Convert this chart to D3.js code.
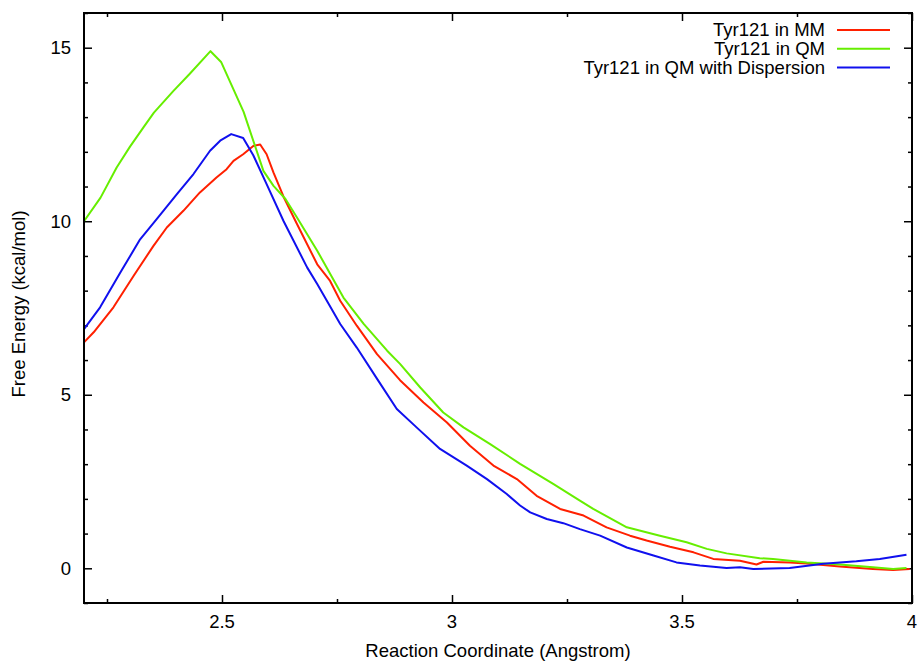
<!DOCTYPE html>
<html>
<head>
<meta charset="utf-8">
<script src="https://cdn.jsdelivr.net/npm/d3@7"></script>
<style>
  body { margin: 0; background: #fff; }
  text { font-family: "Liberation Sans", Arial, sans-serif; fill: #000; }
</style>
</head>
<body>
<svg id="chart" width="923" height="662"></svg>
<script>
// series data (reaction coordinate, free energy)
const mmX = [2.200, 2.221, 2.264, 2.308, 2.351, 2.380, 2.416, 2.452, 2.488, 2.510, 2.525, 2.546, 2.568, 2.583, 2.597, 2.612, 2.634, 2.663, 2.707, 2.735, 2.757, 2.793, 2.837, 2.887, 2.938, 2.989, 3.039, 3.090, 3.141, 3.184, 3.235, 3.286, 3.336, 3.387, 3.423, 3.474, 3.525, 3.568, 3.626, 3.662, 3.677, 3.734, 3.771, 3.843, 3.915, 3.959, 3.995];
const mmY = [6.51, 6.80, 7.52, 8.43, 9.29, 9.82, 10.30, 10.83, 11.26, 11.50, 11.74, 11.93, 12.17, 12.21, 11.93, 11.40, 10.70, 9.92, 8.76, 8.28, 7.71, 6.99, 6.17, 5.42, 4.78, 4.20, 3.53, 2.96, 2.57, 2.09, 1.71, 1.52, 1.18, 0.94, 0.80, 0.62, 0.46, 0.27, 0.22, 0.11, 0.19, 0.17, 0.14, 0.05, -0.02, -0.05, -0.02];

const qmX = [2.200, 2.236, 2.271, 2.300, 2.330, 2.352, 2.394, 2.430, 2.475, 2.498, 2.547, 2.590, 2.612, 2.638, 2.663, 2.707, 2.764, 2.808, 2.859, 2.887, 2.931, 2.981, 3.025, 3.083, 3.148, 3.220, 3.278, 3.307, 3.380, 3.452, 3.510, 3.554, 3.597, 3.669, 3.698, 3.771, 3.843, 3.915, 3.959, 3.988];
const qmY = [10.00, 10.68, 11.55, 12.15, 12.72, 13.13, 13.75, 14.25, 14.90, 14.59, 13.15, 11.45, 11.02, 10.64, 10.11, 9.15, 7.80, 7.04, 6.27, 5.89, 5.21, 4.49, 4.06, 3.58, 3.01, 2.43, 1.95, 1.71, 1.18, 0.94, 0.75, 0.56, 0.43, 0.29, 0.27, 0.17, 0.11, 0.03, -0.02, 0.01];

const dispX = [2.200, 2.235, 2.279, 2.322, 2.358, 2.402, 2.438, 2.474, 2.496, 2.520, 2.546, 2.568, 2.597, 2.634, 2.685, 2.707, 2.757, 2.793, 2.840, 2.880, 2.923, 2.974, 3.032, 3.076, 3.119, 3.148, 3.170, 3.206, 3.242, 3.278, 3.322, 3.380, 3.438, 3.488, 3.539, 3.597, 3.626, 3.655, 3.734, 3.807, 3.879, 3.930, 3.988];
const dispY = [6.89, 7.52, 8.52, 9.48, 10.06, 10.78, 11.36, 12.03, 12.32, 12.51, 12.40, 11.90, 11.07, 10.00, 8.67, 8.19, 7.04, 6.36, 5.40, 4.59, 4.06, 3.44, 2.96, 2.57, 2.14, 1.81, 1.61, 1.42, 1.30, 1.13, 0.94, 0.60, 0.37, 0.17, 0.08, 0.01, 0.03, -0.02, 0.01, 0.13, 0.20, 0.27, 0.39];

const seriesNames = ["Tyr121 in MM", "Tyr121 in QM", "Tyr121 in QM with Dispersion"];
const seriesColors = ["#ff2000", "#66ee00", "#1010ee"];
const xTicks = [2.5, 3, 3.5, 4];
const yTicks = [0, 5, 10, 15];

const svg = d3.select("#chart");
const margin = {top: 13, right: 11, bottom: 59, left: 84};
const width = 923 - margin.left - margin.right;
const height = 662 - margin.top - margin.bottom;
const fontSize = 18.5;

const x = d3.scaleLinear().domain([2.2, 4]).range([0, width]);
const y = d3.scaleLinear().domain([-1, 16]).range([height, 0]);

const g = svg.append("g").attr("transform", `translate(${margin.left},${margin.top})`);

// minor ticks (all four sides)
const xMinor = [2.25, 2.75, 3.25, 3.75];
const yMinor = d3.range(-1, 17).filter(v => !yTicks.includes(v));

function tickAxis(axis, ticks, size) {
  return axis.tickValues(ticks).tickSize(size).tickFormat("");
}

g.append("g").attr("transform", `translate(0,${height})`).call(tickAxis(d3.axisBottom(x), xMinor, -4));
g.append("g").call(tickAxis(d3.axisTop(x), xMinor, -4));
g.append("g").call(tickAxis(d3.axisLeft(y), yMinor, -4));
g.append("g").attr("transform", `translate(${width},0)`).call(tickAxis(d3.axisRight(y), yMinor, -4));

g.append("g").attr("transform", `translate(0,${height})`).call(tickAxis(d3.axisBottom(x), xTicks, -8));
g.append("g").call(tickAxis(d3.axisTop(x), xTicks, -8));
g.append("g").call(tickAxis(d3.axisLeft(y), yTicks, -8));
g.append("g").attr("transform", `translate(${width},0)`).call(tickAxis(d3.axisRight(y), yTicks, -8));

g.selectAll(".domain").remove();
g.selectAll(".tick line").attr("stroke", "#000").attr("stroke-width", 1.5);

// tick labels
g.selectAll(".xlab").data(xTicks).join("text")
  .attr("x", d => x(d)).attr("y", height + 25)
  .attr("text-anchor", "middle").attr("font-size", fontSize)
  .text(d => d);
g.selectAll(".ylab").data(yTicks).join("text")
  .attr("x", -13).attr("y", d => y(d)).attr("dy", "0.35em")
  .attr("text-anchor", "end").attr("font-size", fontSize)
  .text(d => d);

// curves
const line = d3.line().x(d => x(d[0])).y(d => y(d[1]));
const series = [d3.zip(mmX, mmY), d3.zip(qmX, qmY), d3.zip(dispX, dispY)];
g.selectAll(".curve").data(series).join("path")
  .attr("class", "curve")
  .attr("fill", "none")
  .attr("stroke", (d, i) => seriesColors[i])
  .attr("stroke-width", 2)
  .attr("stroke-linejoin", "round")
  .attr("d", line);

// border
g.append("rect").attr("width", width).attr("height", height)
  .attr("fill", "none").attr("stroke", "#000").attr("stroke-width", 2);

// legend
const legend = g.append("g");
seriesNames.forEach((name, i) => {
  const ly = 17 + i * 18.7;
  legend.append("text").attr("x", 741).attr("y", ly).attr("dy", "0.35em")
    .attr("text-anchor", "end").attr("font-size", fontSize).text(name);
  legend.append("line").attr("x1", 753).attr("x2", 806).attr("y1", ly).attr("y2", ly)
    .attr("stroke", seriesColors[i]).attr("stroke-width", 2);
});

// axis titles
svg.append("text").attr("x", margin.left + width / 2).attr("y", 657)
  .attr("text-anchor", "middle").attr("font-size", fontSize)
  .text("Reaction Coordinate (Angstrom)");
svg.append("text").attr("transform", `translate(25,${margin.top + height / 2 - 4}) rotate(-90)`)
  .attr("text-anchor", "middle").attr("font-size", fontSize)
  .text("Free Energy (kcal/mol)");
</script>
</body>
</html>
